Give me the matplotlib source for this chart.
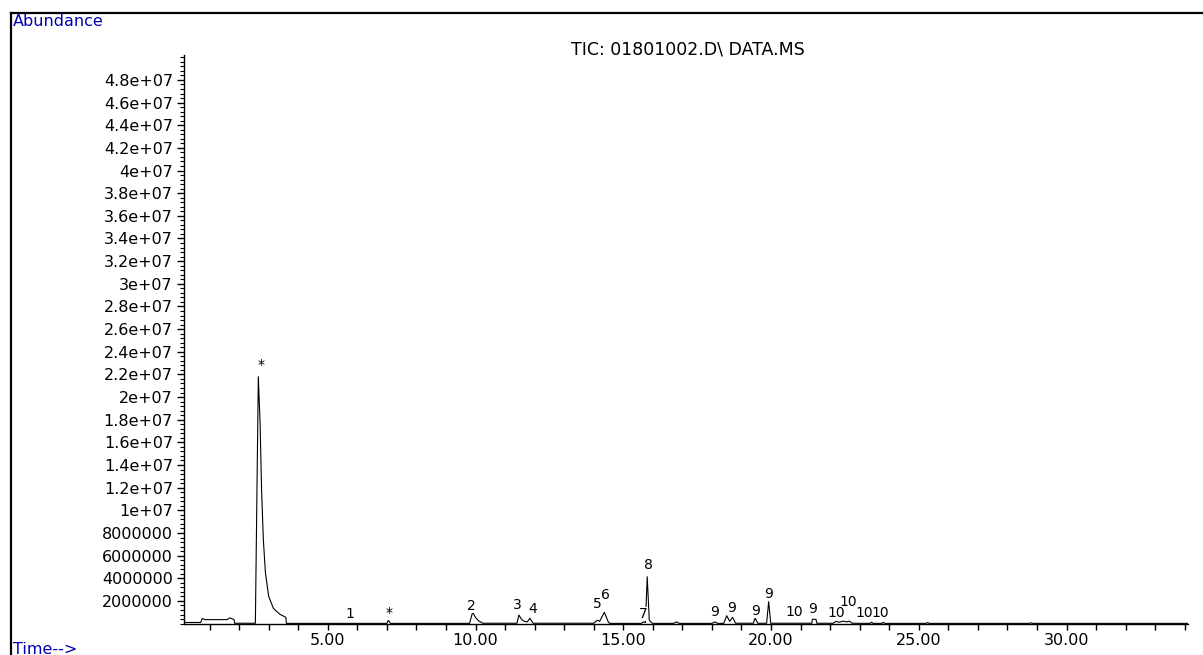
import numpy as np
import matplotlib.pyplot as plt
from matplotlib.ticker import MultipleLocator, FixedLocator
from matplotlib.lines import Line2D

# TIC trace: retention time (min) and abundance, read as vertices
time_min = [0.13, 0.70, 0.75, 0.85, 1.60, 1.68, 1.75, 1.83, 1.85,
            2.55, 2.65, 2.71, 2.76, 2.82, 2.89, 3.00, 3.16, 3.38, 3.55, 3.58, 3.60,
            7.00, 7.05, 7.12,
            9.80, 9.90, 10.00, 10.10, 10.25,
            11.40, 11.47, 11.55, 11.65, 11.75, 11.84, 11.95,
            14.00, 14.12, 14.20, 14.36, 14.50, 14.55,
            15.60, 15.70, 15.75, 15.81, 15.88, 15.95, 16.00,
            16.70, 16.80, 16.90,
            18.00, 18.10, 18.20,
            18.40, 18.50, 18.60, 18.70, 18.80,
            19.40, 19.46, 19.55,
            19.85, 19.92, 19.99,
            21.38, 21.40, 21.52, 21.55,
            22.10, 22.20, 22.30, 22.45, 22.55, 22.65, 22.75,
            23.35, 23.40, 23.45, 23.75, 23.80, 23.85,
            25.25, 25.30, 25.35,
            28.75, 28.80, 28.85,
            34.10]
abundance = [0.10e6, 0.10e6, 0.45e6, 0.35e6, 0.35e6, 0.50e6, 0.45e6, 0.35e6, 0.03e6,
             0.03e6, 21.8e6, 17.7e6, 11.8e6, 7.4e6, 4.5e6, 2.4e6, 1.35e6, 0.82e6, 0.60e6, 0.55e6, 0.02e6,
             0.02e6, 0.30e6, 0.02e6,
             0.02e6, 1.00e6, 0.55e6, 0.25e6, 0.03e6,
             0.03e6, 0.76e6, 0.40e6, 0.20e6, 0.15e6, 0.47e6, 0.03e6,
             0.03e6, 0.30e6, 0.20e6, 1.00e6, 0.10e6, 0.02e6,
             0.02e6, 0.15e6, 0.10e6, 4.14e6, 0.30e6, 0.10e6, 0.02e6,
             0.02e6, 0.15e6, 0.02e6,
             0.02e6, 0.15e6, 0.02e6,
             0.02e6, 0.70e6, 0.20e6, 0.55e6, 0.03e6,
             0.03e6, 0.50e6, 0.03e6,
             0.03e6, 1.93e6, 0.03e6,
             0.03e6, 0.38e6, 0.38e6, 0.03e6,
             0.03e6, 0.20e6, 0.12e6, 0.22e6, 0.15e6, 0.22e6, 0.03e6,
             0.02e6, 0.12e6, 0.02e6, 0.02e6, 0.12e6, 0.02e6,
             0.02e6, 0.10e6, 0.02e6,
             0.02e6, 0.07e6, 0.02e6,
             0.02e6]

# peak annotations (text, time, height of label centre)
peak_text = ["*", "1", "*", "2", "3", "4", "5", "6", "7", "8",
             "9", "9", "9", "9", "10", "9", "10", "10", "10", "10"]
peak_time = [2.74, 5.75, 7.06, 9.85, 11.40, 11.94, 14.11, 14.38, 15.68, 15.85,
             18.10, 18.65, 19.46, 19.92, 20.80, 21.42, 22.60, 22.20, 23.70, 23.15]
peak_height = [22.8e6, 0.85e6, 0.94e6, 1.58e6, 1.64e6, 1.29e6, 1.73e6, 2.52e6, 0.85e6, 5.17e6,
               1.02e6, 1.38e6, 1.14e6, 2.61e6, 0.98e6, 1.29e6, 1.90e6, 0.90e6, 0.94e6, 0.94e6]

xtick_vals = [5, 10, 15, 20, 25, 30]
xtick_labels = ["5.00", "10.00", "15.00", "20.00", "25.00", "30.00"]
ytick_vals = [2e6, 4e6, 6e6, 8e6, 1e7, 1.2e7, 1.4e7, 1.6e7, 1.8e7, 2e7, 2.2e7, 2.4e7,
              2.6e7, 2.8e7, 3e7, 3.2e7, 3.4e7, 3.6e7, 3.8e7, 4e7, 4.2e7, 4.4e7, 4.6e7, 4.8e7]
ytick_labels = ["2000000", "4000000", "6000000", "8000000", "1e+07", "1.2e+07", "1.4e+07",
                "1.6e+07", "1.8e+07", "2e+07", "2.2e+07", "2.4e+07", "2.6e+07", "2.8e+07",
                "3e+07", "3.2e+07", "3.4e+07", "3.6e+07", "3.8e+07", "4e+07", "4.2e+07",
                "4.4e+07", "4.6e+07", "4.8e+07"]

W, H = 1203, 655
fig = plt.figure(figsize=(W / 100, H / 100), dpi=100)
ax = fig.add_axes([184 / W, 1 - 623.6 / H, (1188 - 184) / W, (623.6 - 55) / H])

ax.plot(time_min, abundance, color="black", lw=0.8)
# the trace

for s, t, y in zip(peak_text, peak_time, peak_height):
    ax.text(t, y, s, ha="center", va="center", fontsize=10, zorder=5,
            bbox=dict(facecolor="white", edgecolor="none", pad=0))
# numbered peaks

ax.set_xlim(0.135, 34.11)
ax.set_ylim(0, 50.2e6)
for side in ["top", "right"]:
    ax.spines[side].set_visible(False)
ax.spines["left"].set_linewidth(1.0)
ax.spines["bottom"].set_linewidth(1.0)

ax.xaxis.set_major_locator(FixedLocator(xtick_vals))
ax.set_xticklabels(xtick_labels)
ax.xaxis.set_minor_locator(MultipleLocator(1))
ax.yaxis.set_major_locator(FixedLocator(ytick_vals))
ax.set_yticklabels(ytick_labels)
ax.yaxis.set_minor_locator(MultipleLocator(4e5))
ax.tick_params(axis="x", which="both", direction="out", length=4, width=1, labelsize=11.5, pad=3)
ax.tick_params(axis="y", which="major", direction="out", length=5, width=1, labelsize=11.5, pad=3)
ax.tick_params(axis="y", which="minor", direction="out", length=3, width=0.8)

# frame round the plot (top and left only)
fig.add_artist(Line2D([11 / W, 1], [1 - 12.5 / H, 1 - 12.5 / H], transform=fig.transFigure,
                      color="black", lw=1.6))
fig.add_artist(Line2D([11 / W, 11 / W], [0, 1 - 12.5 / H], transform=fig.transFigure,
                      color="black", lw=1.6))

fig.text(13 / W, 1 - 14 / H, "Abundance", color="#0000b0", fontsize=11.5, ha="left", va="top")
fig.text(13 / W, 1 - 642 / H, "Time-->", color="#0000b0", fontsize=11.5, ha="left", va="top")
fig.text(688 / W, 1 - 50 / H, "TIC: 01801002.D\\ DATA.MS", color="black", fontsize=12.5,
         ha="center", va="center")

fig.savefig("out.png", dpi=100)
